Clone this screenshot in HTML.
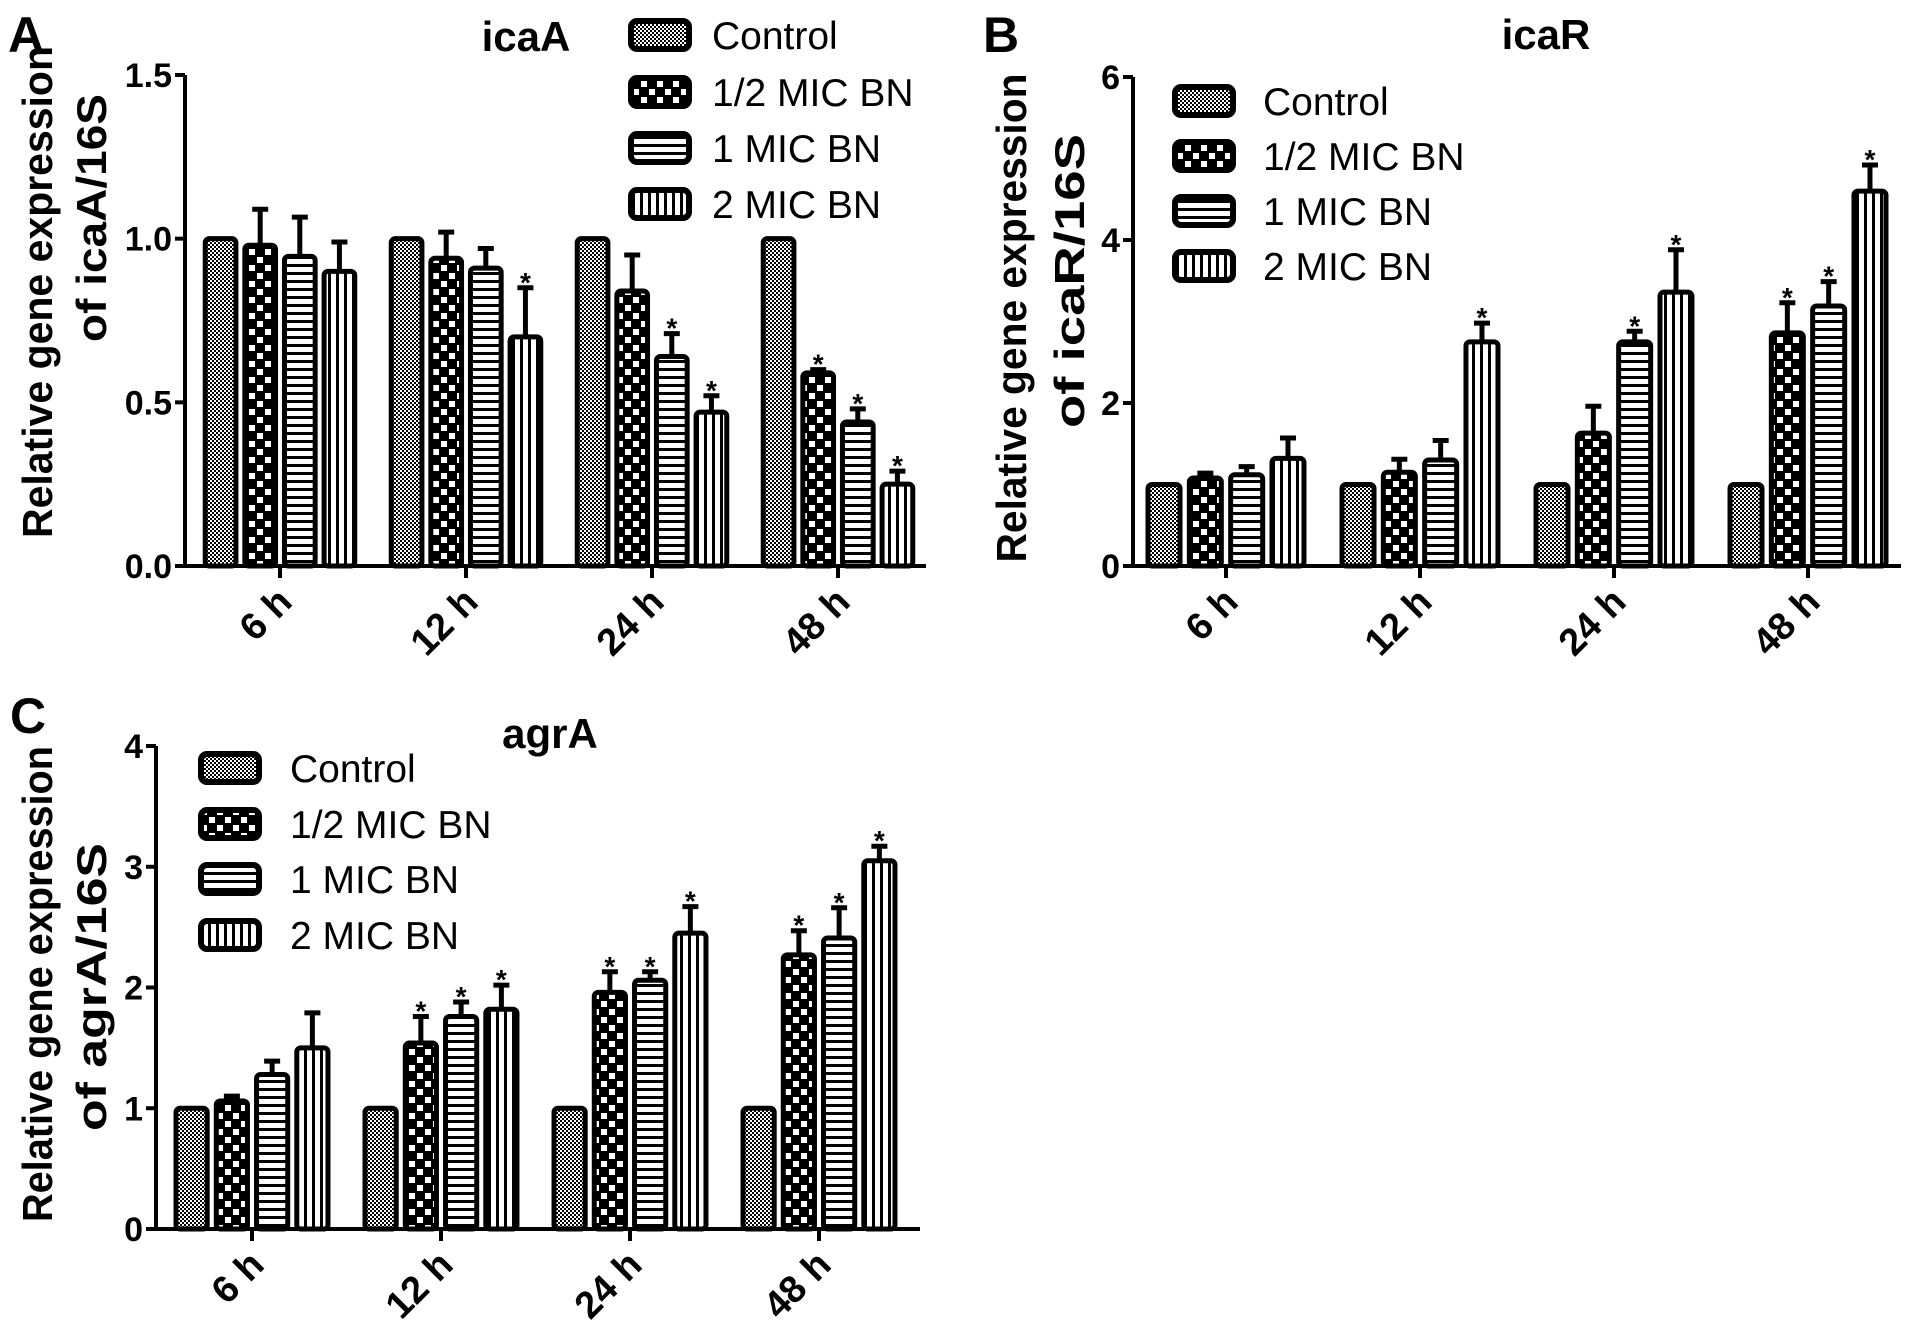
<!DOCTYPE html>
<html><head><meta charset="utf-8"><style>
html,body{margin:0;padding:0;background:#fff;overflow:hidden;}
svg{display:block;font-family:"Liberation Sans",Arial,sans-serif;}
</style></head><body>
<svg id="fig" width="1913" height="1325" viewBox="0 0 1913 1325" xmlns="http://www.w3.org/2000/svg">
<defs>
<pattern id="pControl" width="4" height="4" patternUnits="userSpaceOnUse"><rect width="4" height="4" fill="#fff"/><rect width="2" height="2" fill="#000"/><rect x="2" y="2" width="2" height="2" fill="#000"/></pattern>
<pattern id="pHalf" width="16" height="16" patternUnits="userSpaceOnUse"><rect width="16" height="16" fill="#000"/><rect x="1" y="1" width="6" height="6" fill="#fff"/><rect x="9" y="9" width="6" height="6" fill="#fff"/></pattern>
<pattern id="pOne" width="8" height="8" patternUnits="userSpaceOnUse"><rect width="8" height="8" fill="#fff"/><rect width="8" height="3" fill="#000"/></pattern>
<pattern id="pTwo" width="8" height="8" patternUnits="userSpaceOnUse"><rect width="8" height="8" fill="#fff"/><rect width="3" height="8" fill="#000"/></pattern>
</defs>
</svg>
<script>
const categories = ["6 h","12 h","24 h","48 h"];
const seriesNames = ["Control","1/2 MIC BN","1 MIC BN","2 MIC BN"];
// icaA
const icaA_control = [1,1,1,1];
const icaA_half = [0.98,0.94,0.84,0.59];
const icaA_one = [0.946,0.91,0.64,0.44];
const icaA_two = [0.90,0.70,0.47,0.25];
const icaA_err_half = [0.11,0.08,0.11,0.01];
const icaA_err_one = [0.12,0.06,0.07,0.04];
const icaA_err_two = [0.09,0.15,0.05,0.04];
const icaA_sig_half = [0,0,0,1];
const icaA_sig_one = [0,0,1,1];
const icaA_sig_two = [0,1,1,1];
const icaA_ticks = ["0.0","0.5","1.0","1.5"];
// icaR
const icaR_control = [1,1,1,1];
const icaR_half = [1.08,1.15,1.63,2.86];
const icaR_one = [1.12,1.3,2.75,3.19];
const icaR_two = [1.32,2.75,3.36,4.6];
const icaR_err_half = [0.06,0.16,0.33,0.37];
const icaR_err_one = [0.1,0.24,0.13,0.3];
const icaR_err_two = [0.25,0.23,0.52,0.32];
const icaR_sig_half = [0,0,0,1];
const icaR_sig_one = [0,0,1,1];
const icaR_sig_two = [0,1,1,1];
const icaR_ticks = ["0","2","4","6"];
// agrA
const agrA_control = [1,1,1,1];
const agrA_half = [1.06,1.54,1.96,2.27];
const agrA_one = [1.28,1.76,2.06,2.41];
const agrA_two = [1.50,1.82,2.45,3.05];
const agrA_err_half = [0.04,0.22,0.17,0.2];
const agrA_err_one = [0.11,0.12,0.07,0.25];
const agrA_err_two = [0.29,0.2,0.22,0.12];
const agrA_sig_half = [0,1,1,1];
const agrA_sig_one = [0,1,1,1];
const agrA_sig_two = [0,1,1,1];
const agrA_ticks = ["0","1","2","3","4"];

const NS="http://www.w3.org/2000/svg";
const svg=document.getElementById('fig');
function el(tag,attrs,parent,text){const e=document.createElementNS(NS,tag);for(const k in attrs)e.setAttribute(k,attrs[k]);if(text!==undefined)e.textContent=text;(parent||svg).appendChild(e);return e;}
const fills=["url(#pControl)","url(#pHalf)","url(#pOne)","url(#pTwo)"];
const sKeys=["control","half","one","two"];

function panel(p){
  const g=el('g',{});
  
  
  const yMax=p.yMax;
  const yScale=v=>p.y0-(v/yMax)*(p.y0-p.yTop);
  const xCenter=i=>p.x0+p.offset+i*p.groupW;
  const pitch=p.groupW*0.213, bw=p.groupW*0.165;
  const series=[p.control,p.half,p.one,p.two];
  const errs=[null,p.errHalf,p.errOne,p.errTwo];
  const sigs=[null,p.sigHalf,p.sigOne,p.sigTwo];
  for(let gi=0;gi<categories.length;gi++){
    for(let s=0;s<4;s++){
      const v=series[s][gi];
      const cx=xCenter(gi)+(s-1.5)*pitch;
      const yt=yScale(v);
      if(errs[s]){
        const ye=yScale(v+errs[s][gi]);
        const el1=el('line',{x1:cx,x2:cx,y1:yt,y2:ye,stroke:'#000','stroke-width':5},g);
        
        
        const c=el('line',{x1:cx-8,x2:cx+8,y1:ye,y2:ye,stroke:'#000','stroke-width':5},g);
        
        
        if(sigs[s][gi]){
          const st=el('text',{x:cx,y:ye+4,'text-anchor':'middle','font-size':28,'font-weight':'bold'},g,'*');
          
          
        }
      }
      const r=el('rect',{x:cx-bw/2,y:yt,width:bw,height:p.y0-yt,rx:4,fill:fills[s],stroke:'#000','stroke-width':5},g);
      
      
    }
  }
  const ya=el('line',{x1:p.x0,x2:p.x0,y1:p.yTop,y2:p.y0+2,stroke:'#000','stroke-width':4},g);
  
  
  const xa=el('line',{x1:p.x0-10,x2:p.xEnd,y1:p.y0,y2:p.y0,stroke:'#000','stroke-width':4},g);
  
  
  const n=p.ticks.length-1;
  p.ticks.forEach((t,i)=>{
    const v=yMax*i/n, y=yScale(v);
    el('line',{x1:p.x0-10,x2:p.x0,y1:y,y2:y,stroke:'#000','stroke-width':4},g);
    const tl=el('text',{x:p.x0-13,y:y+12,'text-anchor':'end','font-size':34,'font-weight':'bold'},g,t);
    
    
  });
  categories.forEach((c,i)=>{
    const x=xCenter(i);
    el('line',{x1:x,x2:x,y1:p.y0,y2:p.y0+12,stroke:'#000','stroke-width':4},g);
    const tl=el('text',{x:x+14,y:p.y0+38,'text-anchor':'end','font-size':38,'font-weight':'bold',transform:`rotate(-45 ${x+14} ${p.y0+38})`},g,c);
    
    
  });
  const yl1=el('text',{x:0,y:0,'text-anchor':'middle','font-size':42,'font-weight':'bold',textLength:p.len1,lengthAdjust:'spacingAndGlyphs',transform:`translate(${p.lx1},${p.lc1}) rotate(-90)`},g,'Relative gene expression');
  
  
  const yl2=el('text',{x:0,y:0,'text-anchor':'middle','font-size':42,'font-weight':'bold',textLength:p.len2,lengthAdjust:'spacingAndGlyphs',transform:`translate(${p.lx2},${p.lc2}) rotate(-90)`},g,'of '+p.name+'/16S');
  
  
  const tt=el('text',{x:p.tx,y:p.ty,'text-anchor':'middle','font-size':42,'font-weight':'bold'},g,p.name);
  
  
  const lt=el('text',{x:p.letX,y:p.letY,'font-size':50,'font-weight':'bold'},g,p.letter);
  
  
  p.legRows.forEach((ry,i)=>{
    const lg=el('g',{},g);
    
    
    el('rect',{x:p.legX,y:ry-14,width:58,height:28,rx:6,fill:fills[i],stroke:'#000','stroke-width':6},lg);
    el('text',{x:p.legTX,y:ry+14,'font-size':39},lg,seriesNames[i]);
  });
}

panel({name:'icaA',letter:'A',letX:8,letY:52,tx:526,ty:51,x0:185,xEnd:926,y0:566,yTop:75,yMax:1.5,offset:95,groupW:186,
 control:icaA_control,half:icaA_half,one:icaA_one,two:icaA_two,errHalf:icaA_err_half,errOne:icaA_err_one,errTwo:icaA_err_two,
 sigHalf:icaA_sig_half,sigOne:icaA_sig_one,sigTwo:icaA_sig_two,ticks:icaA_ticks,
 lx1:52,lc1:292,len1:492,lx2:106,lc2:218,len2:248,legX:631,legTX:712,legRows:[35,92,148,204]});
panel({name:'icaR',letter:'B',letX:983,letY:52,tx:1546,ty:49,x0:1133,xEnd:1901,y0:566,yTop:77,yMax:6,offset:93,groupW:194,
 control:icaR_control,half:icaR_half,one:icaR_one,two:icaR_two,errHalf:icaR_err_half,errOne:icaR_err_one,errTwo:icaR_err_two,
 sigHalf:icaR_sig_half,sigOne:icaR_sig_one,sigTwo:icaR_sig_two,ticks:icaR_ticks,
 lx1:1026,lc1:318,len1:489,lx2:1084,lc2:281,len2:294,legX:1175,legTX:1263,legRows:[101,156,211,266]});
panel({name:'agrA',letter:'C',letX:10,letY:733,tx:550,ty:748,x0:156,xEnd:920,y0:1229,yTop:746,yMax:4,offset:96,groupW:189,
 control:agrA_control,half:agrA_half,one:agrA_one,two:agrA_two,errHalf:agrA_err_half,errOne:agrA_err_one,errTwo:agrA_err_two,
 sigHalf:agrA_sig_half,sigOne:agrA_sig_one,sigTwo:agrA_sig_two,ticks:agrA_ticks,
 lx1:52,lc1:984,len1:476,lx2:106,lc2:987,len2:288,legX:201,legTX:290,legRows:[768,824,879,935]});
</script>
</body></html>
